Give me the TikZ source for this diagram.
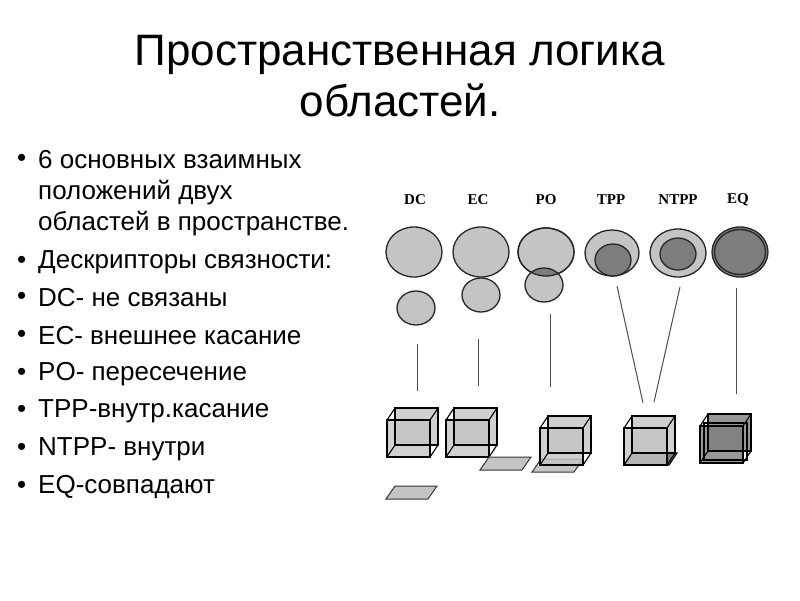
\documentclass[tikz,border=0pt]{standalone}
\usepackage{fontspec}
\setmainfont{Liberation Sans}
\newfontfamily\tagfont{Liberation Serif}
\usepackage{tikz}
\definecolor{lite}{RGB}{196,196,196}
\definecolor{dark}{RGB}{125,125,125}
\newcommand{\boxcube}[3]{% x, y (front lower left), fill
\fill [#3, fill opacity=0.8] (#1+8,#2-12) rectangle ++(43,-37);
\fill [#3, fill opacity=0.8] (#1,#2) rectangle ++(43,-37);
\draw [black, line width=1.1] (#1,#2) rectangle ++(43,-37);
\draw [black, line width=1.1] (#1+8,#2-12) rectangle ++(43,-37);
\draw [black, line width=1.1] (#1,#2) -- ++(8,-12) (#1+43,#2) -- ++(8,-12)
  (#1,#2-37) -- ++(8,-12) (#1+43,#2-37) -- ++(8,-12);}
\newcommand{\plate}[3]{% x, y, fill
\filldraw [fill=#3, draw=black!80, line width=1] (#1,#2) -- ++(42,0) -- ++(9,-13) -- ++(-42,0) -- cycle;}

\begin{document}
\begin{tikzpicture}[x=1pt,y=-1pt]
\tikzset{every node/.style={inner sep=0pt},
  bullet/.style={anchor=west, font=\fontsize{26}{30}\selectfont},
  tag/.style={font=\fontsize{15}{17}\selectfont\tagfont\bfseries},
  region/.style={draw=black!85, line width=1.3, fill=lite},
  inner/.style={draw=black!85, line width=1.3, fill=dark},
  link/.style={draw=black!70, line width=1}}
\useasboundingbox (0,0) rectangle (800,600);
% title
\node (title1) at (400,55) {\fontsize{44}{50}\selectfont Пространственная логика};
\node (title2) at (400,100) {\fontsize{44}{50}\selectfont областей.};
% bullets
\foreach \i/\t/\y in {1/6 основных взаимных/160, 2/Дескрипторы связности:/262,
  3/DC- не связаны/298, 4/EC- внешнее касание/336, 5/PO- пересечение/374,
  6/TPP-внутр.касание/411, 7/NTPP- внутри/449, 8/EQ-совпадают/487} {
  \node [bullet] (d\i) at (17,\y) {•};
  \node [bullet] (b\i) at (38,\y) {\t};}
\node [bullet] (b1a) at (38,193) {положений двух};
\node [bullet] (b1b) at (38,224) {областей в пространстве.};
% labels
\foreach \n/\t/\x in {dc/DC/415, ec/EC/478, po/PO/546, tpp/TPP/611, ntpp/NTPP/678, eq/EQ/738}
  \node [tag] (t\n) at (\x,200) {\t};
% regions
\draw [region] (414,252) ellipse (28 and 25);
\draw [region] (416,308) ellipse (19 and 17);
\draw [region] (481,252) ellipse (28 and 25);
\draw [region] (481,295) ellipse (19 and 17);
\draw [region] (546,252) ellipse (28 and 24);
\fill [lite] (544,285) ellipse (19 and 17);
\begin{scope}
\clip (546,252) ellipse (28 and 24);
\fill [dark] (544,285) ellipse (19 and 17);
\end{scope}
\draw [region, fill=none] (546,252) ellipse (28 and 24);
\draw [region, fill=none] (544,285) ellipse (19 and 17);
\draw [region] (612,253) ellipse (27 and 23);
\draw [inner] (613,260) ellipse (18 and 16);
\draw [region] (678,253) ellipse (28 and 24);
\draw [inner] (678,254) ellipse (18 and 16);
\draw [inner] (740,252) ellipse (28 and 25);
\draw [black!85, line width=1.3] (740,252) ellipse (25.5 and 22.5);
% links
\coordinate (l1) at (417,344); \coordinate (l2) at (417,391);
\coordinate (l3) at (478,339); \coordinate (l4) at (478,386);
\coordinate (l5) at (550,314); \coordinate (l6) at (550,387);
\coordinate (l7) at (617,286); \coordinate (l8) at (643,403);
\coordinate (l9) at (680,287); \coordinate (l10) at (654,402);
\coordinate (l11) at (736,288); \coordinate (l12) at (736,394);
\foreach \a/\b in {l1/l2, l3/l4, l5/l6, l7/l8, l9/l10, l11/l12}
  \draw [link] (\a) -- (\b);
% solids
\boxcube{387}{457}{lite}
\plate{386}{499}{lite}
\boxcube{446}{457}{lite}
\plate{480}{470}{lite}
\plate{532}{472}{lite}
\boxcube{540}{465}{lite}
\filldraw [fill=dark, draw=black, line width=1.1] (624,465) -- ++(45,0) -- ++(8,-12) -- ++(-45,0) -- cycle;
\boxcube{624}{465}{lite}
\boxcube{700}{463}{dark}
\draw [black, line width=1.1] (704,460) rectangle ++(43,-37);
\end{tikzpicture}
\end{document}
